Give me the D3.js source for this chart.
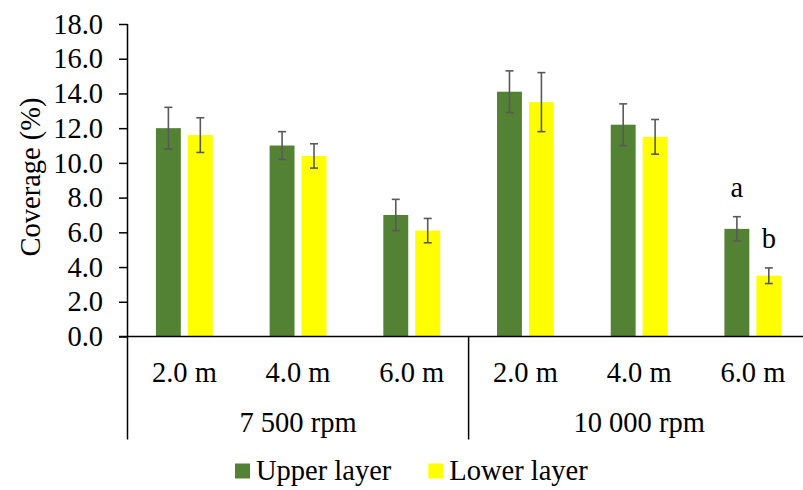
<!DOCTYPE html>
<html lang="en">
<head>
    <meta charset="UTF-8">
    <title>Coverage chart</title>
    <script src="https://d3js.org/d3.v7.min.js"></script>
    <style>
        body { margin: 0; background: #fff; }
    </style>
</head>
<body>
    <div id="chart"></div>
    <script>
        // data
        const distances = ["2.0 m", "4.0 m", "6.0 m"];
        const speeds = ["7 500 rpm", "10 000 rpm"];
        const seriesNames = ["Upper layer", "Lower layer"];
        const upper = [12.0, 11.0, 7.0, 14.1, 12.2, 6.2];
        const upperErr = [1.2, 0.8, 0.9, 1.2, 1.2, 0.7];
        const lower = [11.6, 10.4, 6.1, 13.5, 11.5, 3.5];
        const lowerErr = [1.0, 0.7, 0.7, 1.7, 1.0, 0.45];
        const upperLetters = ["", "", "", "", "", "a"];
        const lowerLetters = ["", "", "", "", "", "b"];
        const yTicks = [0, 2, 4, 6, 8, 10, 12, 14, 16, 18];

        const width = 803;
        const height = 490;
        const colors = ["#548235", "#ffff00"];
        const FONT = '"Liberation Serif", "Times New Roman", serif';
        const FS = '28.5px';

        const svg = d3.select('#chart').append('svg')
            .attr('width', width)
            .attr('height', height);

        // one key per bar group
        const keys = [];
        speeds.forEach((s, i) => distances.forEach((d, j) => keys.push(i + '|' + j)));

        const x0 = d3.scaleBand()
            .domain(keys)
            .range([127.5, 809.7])
            .paddingInner(0.5)
            .paddingOuter(0.25);

        const x1 = d3.scaleBand()
            .domain(seriesNames)
            .range([0, x0.bandwidth()])
            .paddingInner(0.22);

        const y = d3.scaleLinear()
            .domain([0, 18])
            .range([336.5, 24]);

        const rows = keys.map((k, i) => ({
            key: k,
            vals: [
                { s: seriesNames[0], v: upper[i], e: upperErr[i], l: upperLetters[i], c: colors[0] },
                { s: seriesNames[1], v: lower[i], e: lowerErr[i], l: lowerLetters[i], c: colors[1] }
            ]
        }));

        const groups = svg.selectAll('g.grp')
            .data(rows)
            .enter()
            .append('g')
            .attr('class', 'grp')
            .attr('transform', d => `translate(${x0(d.key)},0)`);

        groups.selectAll('rect')
            .data(d => d.vals)
            .enter()
            .append('rect')
            .attr('x', d => x1(d.s))
            .attr('y', d => y(d.v))
            .attr('width', x1.bandwidth())
            .attr('height', d => y(0) - y(d.v))
            .attr('fill', d => d.c);

        // error bars
        const eb = groups.selectAll('g.err')
            .data(d => d.vals)
            .enter()
            .append('g')
            .attr('class', 'err')
            .attr('stroke', '#595959')
            .attr('stroke-width', 1.6);
        eb.append('line')
            .attr('x1', d => x1(d.s) + x1.bandwidth() / 2)
            .attr('x2', d => x1(d.s) + x1.bandwidth() / 2)
            .attr('y1', d => y(d.v + d.e))
            .attr('y2', d => y(d.v - d.e));
        eb.append('line')
            .attr('x1', d => x1(d.s) + x1.bandwidth() / 2 - 4)
            .attr('x2', d => x1(d.s) + x1.bandwidth() / 2 + 4)
            .attr('y1', d => y(d.v + d.e))
            .attr('y2', d => y(d.v + d.e));
        eb.append('line')
            .attr('x1', d => x1(d.s) + x1.bandwidth() / 2 - 4)
            .attr('x2', d => x1(d.s) + x1.bandwidth() / 2 + 4)
            .attr('y1', d => y(d.v - d.e))
            .attr('y2', d => y(d.v - d.e));

        // significance letters
        groups.selectAll('text.letter')
            .data(d => d.vals.filter(v => v.l))
            .enter()
            .append('text')
            .attr('class', 'letter')
            .attr('x', d => x1(d.s) + x1.bandwidth() / 2)
            .attr('y', d => y(d.v + d.e) - 20)
            .attr('text-anchor', 'middle')
            .style('font-family', FONT)
            .style('font-size', FS)
            .text(d => d.l);

        // y axis
        const yAxis = d3.axisLeft(y)
            .tickValues(yTicks)
            .tickFormat(d3.format('.1f'))
            .tickSize(8.5)
            .tickPadding(16);
        const ya = svg.append('g')
            .attr('transform', 'translate(127.5,0)')
            .call(yAxis);
        ya.select('.domain').attr('stroke', '#000').attr('stroke-width', 1.5)
            .attr('d', `M0,${y(18)}V${y(0)}`);
        ya.selectAll('.tick line').attr('stroke', '#000').attr('stroke-width', 1.5);
        ya.selectAll('.tick text')
            .style('font-family', FONT)
            .style('font-size', FS)
            .attr('fill', '#000');

        // x axis baseline
        svg.append('line')
            .attr('x1', 119).attr('x2', width)
            .attr('y1', y(0)).attr('y2', y(0))
            .attr('stroke', '#000').attr('stroke-width', 1.5);

        // group separators
        const step = x0.step();
        const sepX = [0, 3, 6].map(i => 127.5 + i * step);
        svg.selectAll('line.sep')
            .data(sepX)
            .enter()
            .append('line')
            .attr('class', 'sep')
            .attr('x1', d => d).attr('x2', d => d)
            .attr('y1', y(0)).attr('y2', 439.5)
            .attr('stroke', '#000').attr('stroke-width', 1.5);

        // category labels
        svg.selectAll('text.cat')
            .data(keys)
            .enter()
            .append('text')
            .attr('class', 'cat')
            .attr('x', d => x0(d) + x0.bandwidth() / 2)
            .attr('y', 381.5)
            .attr('text-anchor', 'middle')
            .style('font-family', FONT)
            .style('font-size', FS)
            .text(d => distances[+d.split('|')[1]]);

        // speed labels
        svg.selectAll('text.speed')
            .data(speeds)
            .enter()
            .append('text')
            .attr('class', 'speed')
            .attr('x', (d, i) => (sepX[i] + sepX[i + 1]) / 2)
            .attr('y', 431.5)
            .attr('text-anchor', 'middle')
            .style('font-family', FONT)
            .style('font-size', FS)
            .text(d => d);

        // y title
        svg.append('text')
            .attr('transform', 'translate(40,177) rotate(-90)')
            .attr('text-anchor', 'middle')
            .style('font-family', FONT)
            .style('font-size', FS)
            .text('Coverage (%)');

        // legend
        const legX = [235, 428.3];
        const leg = svg.selectAll('g.leg')
            .data(seriesNames)
            .enter()
            .append('g')
            .attr('class', 'leg')
            .attr('transform', (d, i) => `translate(${legX[i]},463.5)`);
        leg.append('rect')
            .attr('width', 15).attr('height', 15)
            .attr('fill', (d, i) => colors[i]);
        leg.append('text')
            .attr('x', 21)
            .attr('y', 16.5)
            .style('font-family', FONT)
            .style('font-size', FS)
            .text(d => d);
    </script>
</body>
</html>
